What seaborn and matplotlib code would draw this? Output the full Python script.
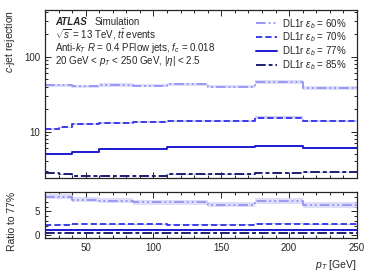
import numpy as np
import pandas as pd
import matplotlib
matplotlib.use("Agg")
import matplotlib.pyplot as plt
import seaborn as sns
from matplotlib.ticker import MultipleLocator, LogLocator, NullFormatter, FixedLocator, FixedFormatter

# bin edges in pT [GeV]
pt_edges = [20, 30, 40, 60, 85, 110, 140, 175, 210, 250]

# c-jet rejection per bin for each working point
rej_60 = [41.5, 41.5, 40.5, 42.0, 41.0, 43.0, 40.0, 46.5, 38.5]
rej_70 = [10.8, 11.4, 12.7, 13.1, 13.5, 13.9, 13.9, 15.4, 13.9]
rej_77 = [5.1, 5.1, 5.4, 5.8, 5.9, 6.2, 6.2, 6.4, 6.0]
rej_85 = [2.8, 2.7, 2.55, 2.55, 2.55, 2.7, 2.7, 2.8, 2.85]

# relative statistical uncertainty per bin
unc_60 = [0.05, 0.05, 0.05, 0.05, 0.05, 0.05, 0.05, 0.06, 0.07]
unc_70 = [0.025, 0.025, 0.025, 0.025, 0.025, 0.025, 0.03, 0.035, 0.04]
unc_77 = [0.015, 0.015, 0.015, 0.015, 0.015, 0.015, 0.02, 0.02, 0.025]
unc_85 = [0.01, 0.01, 0.01, 0.01, 0.01, 0.01, 0.012, 0.012, 0.015]

labels = ["60%", "70%", "77%", "85%"]
colors = ["#9a9af5", "#3d3dea", "#1c1cd2", "#1e1e72"]
band_colors = ["#d6d6fb", "#c4c4f6", "#c0c0f0", "#c0c0dc"]
styles = [(0, (5, 1.5, 1, 1.5, 1, 1.5)), (0, (3.2, 1.6)), "-", (0, (5, 1.5, 2, 1.5))]

series = [rej_60, rej_70, rej_77, rej_85]
uncs = [unc_60, unc_70, unc_77, unc_85]

sns.set_theme(style="ticks")
plt.rcParams["font.family"] = ["Liberation Sans", "DejaVu Sans"]
plt.rcParams["mathtext.fontset"] = "custom"
plt.rcParams["mathtext.rm"] = "Liberation Sans"
plt.rcParams["mathtext.it"] = "Liberation Sans:italic"
plt.rcParams["mathtext.bf"] = "Liberation Sans:bold"
plt.rcParams["font.size"] = 7

fig = plt.figure(figsize=(3.74, 2.8), dpi=100)
ax = fig.add_axes([0.1203, 0.364, 0.834, 0.6])
rax = fig.add_axes([0.1203, 0.15, 0.834, 0.166], sharex=ax)

def steps(vals):
    return list(vals) + [vals[-1]]

ref = np.array(rej_77)
for vals, unc, lab, col, bcol, ls in zip(series, uncs, labels, colors, band_colors, styles):
    v = np.array(vals)
    u = np.array(unc) * v
    df = pd.DataFrame({"pt": pt_edges, "rej": steps(v)})
    ax.fill_between(pt_edges, steps(v - u), steps(v + u), step="post", color=bcol, lw=0, alpha=0.8)
    sns.lineplot(data=df, x="pt", y="rej", ax=ax, color=col, linestyle=ls, lw=1.4,
                 drawstyle="steps-post", label=r"DL1r $\varepsilon_b$ = " + lab)

    r = v / ref
    ru = np.array(unc) * r * 1.4
    rdf = pd.DataFrame({"pt": pt_edges, "ratio": steps(r)})
    rax.fill_between(pt_edges, steps(r - ru), steps(r + ru), step="post", color=bcol, lw=0, alpha=0.8)
    sns.lineplot(data=rdf, x="pt", y="ratio", ax=rax, color=col, linestyle=ls, lw=1.4,
                 drawstyle="steps-post", legend=False)

ax.set_yscale("log")
ax.set_ylim(2.4, 420)
ax.set_xlim(20, 250)
rax.set_ylim(-0.6, 9.2)

for a in (ax, rax):
    a.tick_params(which="both", direction="in", top=True, right=True, labelsize=7, width=0.7)
    a.tick_params(which="major", length=4)
    a.tick_params(which="minor", length=2)
    a.xaxis.set_major_locator(MultipleLocator(50))
    a.xaxis.set_minor_locator(MultipleLocator(10))
    for s in a.spines.values():
        s.set_linewidth(0.9)

ax.yaxis.set_major_locator(FixedLocator([10, 100]))
ax.yaxis.set_major_formatter(FixedFormatter(["10", "100"]))
ax.yaxis.set_minor_locator(LogLocator(base=10, subs=np.arange(2, 10)))
ax.yaxis.set_minor_formatter(NullFormatter())
ax.tick_params(labelbottom=False)
rax.yaxis.set_major_locator(MultipleLocator(5))
rax.yaxis.set_minor_locator(MultipleLocator(1))

ax.set_xlabel("")
ax.set_ylabel(r"$c$-jet rejection", loc="top", fontsize=7.5)
rax.set_ylabel("Ratio to 77%", loc="top", fontsize=7.5)
rax.set_xlabel(r"$p_T$ [GeV]", loc="right", fontsize=7.5)
ax.yaxis.set_label_coords(-0.09, 1.0)
rax.yaxis.set_label_coords(-0.09, 1.0)

# ATLAS label block
x0, y0, dy = 0.032, 0.93, 0.078
ax.text(x0, y0, "ATLAS", transform=ax.transAxes, fontsize=7, weight="bold", style="italic", va="center")
ax.text(x0 + 0.128, y0, "Simulation", transform=ax.transAxes, fontsize=7, va="center")
ax.text(x0, y0 - dy, r"$\sqrt{s}$ = 13 TeV, $t\bar{t}$ events", transform=ax.transAxes, fontsize=7, va="center")
ax.text(x0, y0 - 2 * dy, r"Anti-$k_{T}$ $R$ = 0.4 PFlow jets, $f_c$ = 0.018", transform=ax.transAxes, fontsize=7, va="center")
ax.text(x0, y0 - 3 * dy, r"20 GeV < $p_T$ < 250 GeV, |$\eta$| < 2.5", transform=ax.transAxes, fontsize=7, va="center")

ax.legend(loc="upper right", frameon=False, fontsize=7, handlelength=2.1, handletextpad=0.6,
          labelspacing=0.0, borderaxespad=0.3, bbox_to_anchor=(0.99, 1.0))

fig.savefig("out.png", dpi=100)
